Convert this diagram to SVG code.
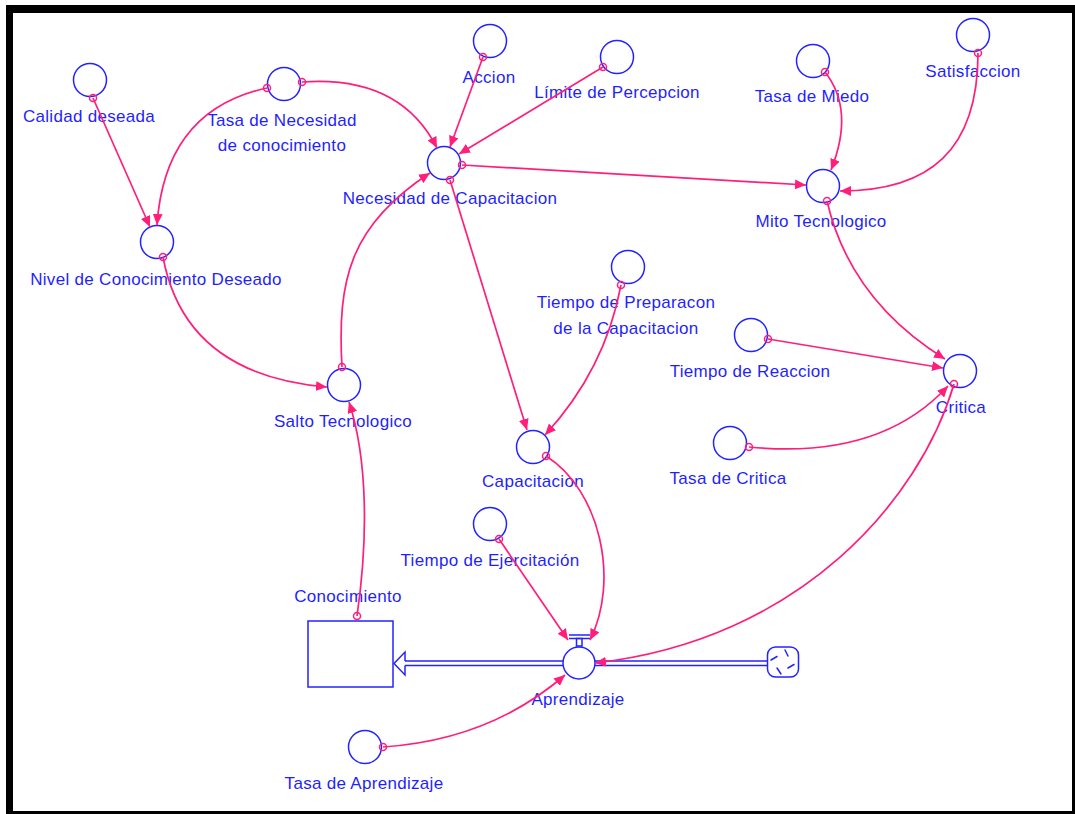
<svg xmlns="http://www.w3.org/2000/svg" width="1075" height="814" viewBox="0 0 1075 814">
<defs>
<style>
.lbl{font-family:"Liberation Sans",Arial,sans-serif;font-size:17px;letter-spacing:0.3px;fill:#1f1fff;text-anchor:middle}
.aux{fill:none;stroke:#2323ff;stroke-width:1.5}
.lnk{fill:none;stroke:#ff1f7a;stroke-width:1.7;marker-start:url(#o);marker-end:url(#a)}
.pipe{fill:none;stroke:#2323ff;stroke-width:1.5}
</style>
<marker id="a" viewBox="0 0 10 9" refX="10" refY="4.5" markerWidth="11" markerHeight="10" markerUnits="userSpaceOnUse" orient="auto"><path d="M0,0L10,4.5L0,9z" fill="#ff1f7a"/></marker>
<marker id="o" viewBox="-5 -5 10 10" refX="0" refY="0" markerWidth="10" markerHeight="10" markerUnits="userSpaceOnUse"><circle r="3.5" fill="none" stroke="#ff1f7a" stroke-width="1.5"/></marker>
</defs>
<rect width="1075" height="814" fill="#fff"/>
<g id="frame" fill="#000">
<rect x="6" y="5" width="1069" height="8"/>
<rect x="6" y="5" width="7" height="809"/>
<rect x="6" y="811" width="1069" height="3"/>
<rect x="1072" y="5" width="3" height="809"/>
</g>
<g id="calidad-deseada"><circle cx="90" cy="80" r="16.5" class="aux"/><text class="lbl" x="89" y="122">Calidad deseada</text></g>
<g id="tasa-necesidad"><circle cx="284" cy="84" r="16.5" class="aux"/><text class="lbl" x="282" y="126">Tasa de Necesidad</text><text class="lbl" x="282" y="151">de conocimiento</text></g>
<g id="accion"><circle cx="490" cy="41" r="16.5" class="aux"/><text class="lbl" x="489" y="83">Accion</text></g>
<g id="limite"><circle cx="617" cy="57" r="16.5" class="aux"/><text class="lbl" x="617" y="98">Límite de Percepcion</text></g>
<g id="tasa-miedo"><circle cx="813" cy="61" r="16.5" class="aux"/><text class="lbl" x="812" y="102">Tasa de Miedo</text></g>
<g id="satisfaccion"><circle cx="973" cy="35" r="16.5" class="aux"/><text class="lbl" x="973" y="77">Satisfaccion</text></g>
<g id="necesidad"><circle cx="444" cy="163" r="16.5" class="aux"/><text class="lbl" x="450" y="204">Necesidad de Capacitacion</text></g>
<g id="mito"><circle cx="823" cy="186" r="16.5" class="aux"/><text class="lbl" x="821" y="227">Mito Tecnologico</text></g>
<g id="nivel"><circle cx="157" cy="242" r="16.5" class="aux"/><text class="lbl" x="156" y="285">Nivel de Conocimiento Deseado</text></g>
<g id="tiempo-preparacion"><circle cx="628" cy="267" r="16.5" class="aux"/><text class="lbl" x="626" y="308">Tiempo de Preparacon</text><text class="lbl" x="626" y="334">de la Capacitacion</text></g>
<g id="tiempo-reaccion"><circle cx="751" cy="335" r="16.5" class="aux"/><text class="lbl" x="750" y="377">Tiempo de Reaccion</text></g>
<g id="critica"><circle cx="960" cy="371" r="16.5" class="aux"/><text class="lbl" x="961" y="413">Critica</text></g>
<g id="salto"><circle cx="344" cy="385" r="16.5" class="aux"/><text class="lbl" x="343" y="427">Salto Tecnologico</text></g>
<g id="capacitacion"><circle cx="533" cy="447" r="16.5" class="aux"/><text class="lbl" x="533" y="487">Capacitacion</text></g>
<g id="tasa-critica"><circle cx="730" cy="443" r="16.5" class="aux"/><text class="lbl" x="728" y="484">Tasa de Critica</text></g>
<g id="tiempo-ejercitacion"><circle cx="490" cy="524" r="16.5" class="aux"/><text class="lbl" x="490" y="566">Tiempo de Ejercitación</text></g>
<g id="tasa-aprendizaje"><circle cx="365" cy="747" r="16.5" class="aux"/><text class="lbl" x="364" y="789">Tasa de Aprendizaje</text></g>
<g id="flow">
<path class="pipe" d="M405,661H563M405,665.5H563M595,661H767M595,665.5H767"/>
<path class="pipe" fill="#fff" d="M405,661V652L394,663.5L405,675V665.5"/>
</g>
<g id="conocimiento"><rect x="308" y="621" width="85" height="66" fill="#fff" stroke="#2323ff" stroke-width="1.5"/><text class="lbl" x="348" y="602">Conocimiento</text></g>
<g id="nube">
<rect x="767.5" y="647" width="31" height="30" rx="8" class="pipe" fill="#fff"/>
<path class="pipe" stroke-width="2" stroke-linecap="round" d="M785,650L788,656M771,660L777,656.5M777,668L781,674M788,668L794,664.5"/>
</g>
<g id="aprendizaje">
<circle cx="579" cy="663" r="16" class="aux" fill="#fff"/>
<path class="pipe" d="M569,635H590M569,638.5H590"/>
<rect x="576.5" y="638.5" width="5.5" height="7.5" class="pipe"/>
<text class="lbl" x="578" y="705">Aprendizaje</text>
</g>
<g id="connectors">
<path class="lnk" d="M93,98L150,227"/>
<path class="lnk" d="M267,88Q165,110 157,225"/>
<path class="lnk" d="M302,82Q400,75 437,148"/>
<path class="lnk" d="M483,57L450,147"/>
<path class="lnk" d="M603,67L459,154"/>
<path class="lnk" d="M462,165L806,185"/>
<path class="lnk" d="M825,72Q855,110 831,170"/>
<path class="lnk" d="M978,53C978,150 930,191 840,191"/>
<path class="lnk" d="M827,201Q850,300 945,359"/>
<path class="lnk" d="M768,339L943,368"/>
<path class="lnk" d="M749,447Q880,460 948,386"/>
<path class="lnk" d="M954,384C920,500 800,640 595,663"/>
<path class="lnk" d="M450,180L527,430"/>
<path class="lnk" d="M621,285Q605,370 545,435"/>
<path class="lnk" d="M163,257Q185,375 327,387"/>
<path class="lnk" d="M342,367C337,280 350,225 430,173"/>
<path class="lnk" d="M357,616C368,540 368,460 349,402"/>
<path class="lnk" d="M546,456C600,490 620,580 590,640"/>
<path class="lnk" d="M499,539L568,640"/>
<path class="lnk" d="M383,747Q490,740 565,675"/>
</g>
</svg>
